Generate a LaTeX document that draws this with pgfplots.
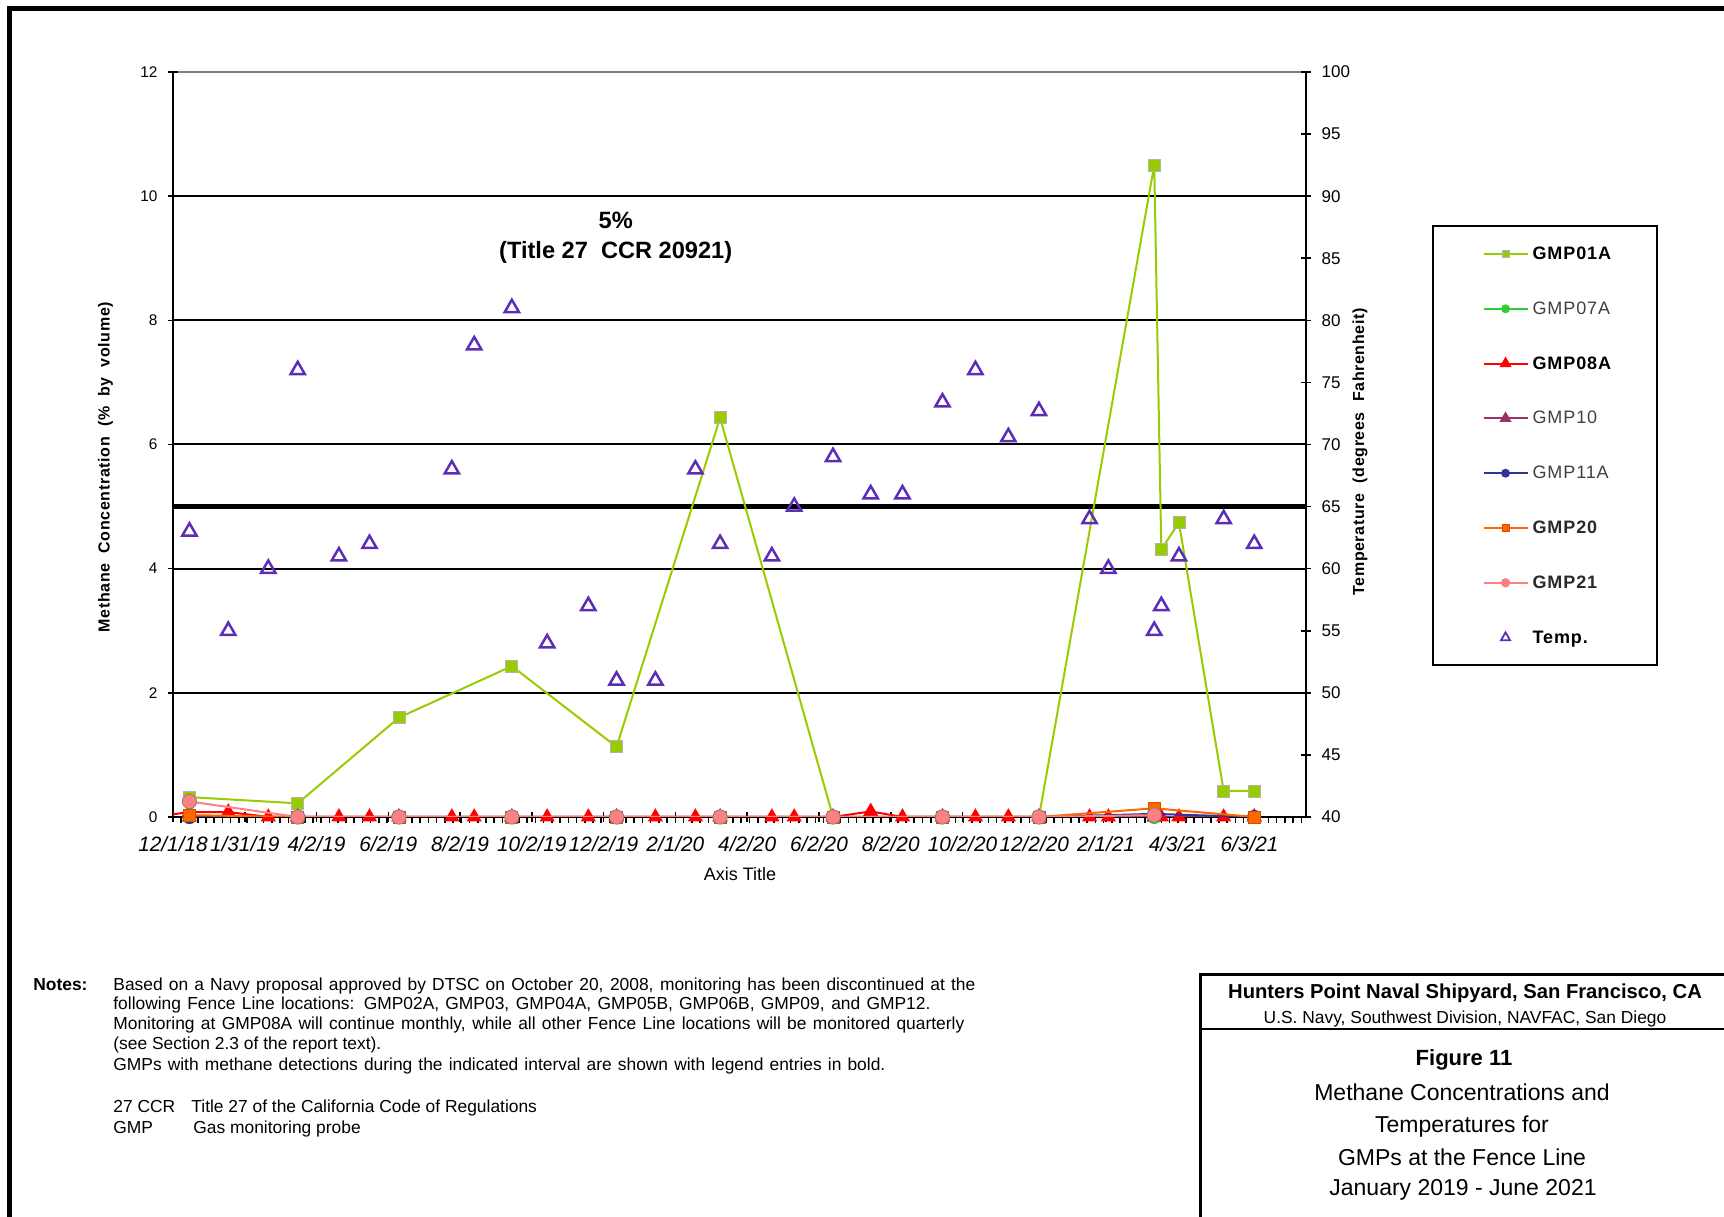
\documentclass[border=0pt]{standalone}
\usepackage{fontspec}
\setmainfont{Liberation Sans}
\newfontfamily\spacedfont[LetterSpace=5]{Liberation Sans}
\newfontfamily\labfont[LetterSpace=4]{Liberation Sans}
\usepackage{pgfplots}
\pgfplotsset{compat=1.18}
\definecolor{c01}{HTML}{99CC00}
\definecolor{c07}{HTML}{33CC33}
\definecolor{c08}{HTML}{FF0000}
\definecolor{c10}{HTML}{993366}
\definecolor{c11}{HTML}{333399}
\definecolor{c20}{HTML}{FF6600}
\definecolor{c21}{HTML}{FF8080}
\definecolor{tempc}{HTML}{5E2DB8}
\definecolor{txtgray}{HTML}{404040}
\definecolor{txtdark}{HTML}{2A2A2A}
\begin{document}
\begin{tikzpicture}[x=0.5pt,y=0.5pt]
\path[use as bounding box] (0,0) rectangle (1724,1216);
% page border
\draw[line width=2.5pt] (9.8,-10) -- (9.8,1207.5) -- (1740,1207.5);
% right info box
\draw[line width=1.5pt] (1200,-10) -- (1200,241) -- (1740,241);
\draw[line width=1.4pt] (1200,187) -- (1740,187);

\begin{axis}[
  at={(86.5pt,199.5pt)}, anchor=south west,
  scale only axis, width=566.5pt, height=372.5pt,
  xmin=0, xmax=963, ymin=0, ymax=12,
  clip mode=individual,
  axis x line*=bottom, axis y line*=left,
  axis line style={black, line width=1pt},
  xtick={0,61,...,915},
  xticklabels={12/1/18,1/31/19,4/2/19,6/2/19,8/2/19,10/2/19,12/2/19,2/1/20,4/2/20,6/2/20,8/2/20,10/2/20,12/2/20,2/1/21,4/3/21,6/3/21},
  minor xtick={7,14,...,959},
  ytick={0,2,...,10},
  extra y ticks={12},
  extra y tick style={ymajorgrids=true, major grid style={color=gray, line width=1pt}},
  ymajorgrids=true,
  major grid style={black, line width=1pt},
  tick align=center,
  major tick length=5.2pt,
  minor tick length=3pt,
  major tick style={black, line width=0.8pt},
  minor tick style={black, line width=0.8pt},
  minor x tick style={yshift=-1.5pt},
  /pgf/number format/assume math mode=true,
  yticklabel style={font=\fontsize{7.7}{9}\selectfont, anchor=east, inner sep=0pt, xshift=-5pt},
  xticklabel style={font=\itshape\fontsize{10.4}{12}\selectfont, anchor=north, inner sep=0pt, yshift=-6.8pt},
  legend style={
    at={(1.1108,0.7941)}, anchor=north west,
    draw=black, line width=1pt, fill=white,
    inner xsep=2pt, inner ysep=7.55pt,
    row sep=14.9pt,
    font=\spacedfont\fontsize{9}{10.8}\selectfont,
    nodes={text width=58pt, text height=7pt, text depth=1.5pt, inner sep=2pt, align=left},
  },
  legend cell align=left,
  legend image code/.code={
    \path[draw=none, fill=none] (-23.5pt,-2pt) rectangle (0pt,2pt);
    \draw[mark repeat=2,mark phase=2] plot coordinates {(0pt,0pt) (11pt,0pt) (22pt,0pt)};
  },
]
% 5% regulatory line
\addplot[black, line width=2.5pt, no marks, forget plot] coordinates {(0,5) (963,5)};

% GMP01A
\addplot[c01, line width=1pt, mark=square*, mark size=3pt,
  mark options={fill=c01, draw=gray!60, line width=0.4pt},
  legend image post style={mark size=1.8pt}] coordinates {
  (14,0.32) (106,0.22) (192,1.6) (288,2.43) (377,1.13) (465,6.43) (561,0) (654,0) (736,0)
  (834,10.5) (840,4.31) (855,4.74) (893,0.42) (919,0.42)};
\addlegendentry{\textbf{GMP01A}}

% GMP07A
\addplot[c07, line width=1pt, mark=*, mark size=3pt, mark options={fill=c07, draw=c07},
  legend image post style={mark size=1.7pt}] coordinates {
  (14,0) (106,0) (192,0) (288,0) (377,0) (465,0) (561,0) (654,0) (736,0) (834,0) (919,0)};
\addlegendentry{\textcolor{txtgray}{GMP07A}}

% GMP08A
\addplot[c08, line width=1pt, no marks, forget plot] coordinates {(-16,0) (14,0.08)};
\addplot[c08, line width=1pt, mark=triangle*, mark size=3.4pt, mark options={fill=c08, draw=c08},
  legend image post style={mark size=2.5pt}] coordinates {
  (14,0.08) (47,0.08) (81,0) (106,0) (141,0) (167,0) (192,0) (237,0) (256,0) (288,0)
  (318,0) (353,0) (377,0) (410,0) (444,0) (465,0) (509,0) (528,0) (561,0) (593,0.09)
  (620,0) (654,0) (682,0) (710,0) (736,0) (779,0) (795,0) (834,0) (840,0) (855,0)
  (893,0) (919,0)};
\addlegendentry{\textbf{GMP08A}}

% GMP10
\addplot[c10, line width=1pt, mark=triangle*, mark size=3.4pt, mark options={fill=c10, draw=c10},
  legend image post style={mark size=2.5pt}] coordinates {
  (14,0) (106,0) (192,0) (288,0) (377,0) (465,0) (561,0) (654,0) (736,0) (834,0) (919,0)};
\addlegendentry{\textcolor{txtgray}{GMP10}}

% GMP11A
\addplot[c11, line width=1pt, mark=*, mark size=3pt, mark options={fill=c11, draw=c11},
  legend image post style={mark size=1.7pt}] coordinates {
  (14,0) (106,0) (192,0) (288,0) (377,0) (465,0) (561,0) (654,0) (736,0) (834,0.05) (919,0)};
\addlegendentry{\textcolor{txtgray}{GMP11A}}

% GMP20
\addplot[c20, line width=1pt, mark=square*, mark size=3pt,
  mark options={fill=c20, draw=c20!80!black, line width=0.4pt},
  legend image post style={mark size=1.8pt}] coordinates {
  (14,0.03) (106,0) (192,0) (288,0) (377,0) (465,0) (561,0) (654,0) (736,0) (834,0.14) (919,0)};
\addlegendentry{\textcolor{txtdark}{\textbf{GMP20}}}

% GMP21
\addplot[c21, line width=1pt, mark=*, mark size=3.6pt,
  mark options={fill=c21, draw=gray, line width=0.4pt},
  legend image post style={mark size=1.8pt, mark options={fill=c21, draw=c21}}] coordinates {
  (14,0.25) (106,0) (192,0) (288,0) (377,0) (465,0) (561,0) (654,0) (736,0) (834,0.03)};
\addlegendentry{\textcolor{txtdark}{\textbf{GMP21}}}

\addlegendimage{only marks, mark=triangle, mark size=2.6pt, mark options={draw=tempc, line width=0.9pt},
  legend image code/.code={
    \path[draw=none, fill=none] (-23.5pt,-2pt) rectangle (0pt,2pt);
    \draw[mark repeat=2,mark phase=2] plot coordinates {(0pt,0pt) (11pt,0pt) (22pt,0pt)};
  }}
\addlegendentry{\textbf{Temp.}}
\end{axis}

\begin{axis}[
  at={(86.5pt,199.5pt)}, anchor=south west,
  scale only axis, width=566.5pt, height=372.5pt,
  xmin=0, xmax=963, ymin=40, ymax=100,
  axis y line*=right, axis x line=none,
  axis line style={black, line width=1pt},
  ytick={40,45,...,100},
  tick align=center,
  major tick length=5.2pt,
  major tick style={black, line width=0.8pt},
  /pgf/number format/assume math mode=true,
  yticklabel style={font=\fontsize{8.5}{10}\selectfont, anchor=west, inner sep=0pt, xshift=5pt},
]
\addplot[only marks, mark=triangle, mark size=4.1pt, mark options={draw=tempc, line width=1.25pt}] coordinates {
  (14,63) (47,55) (81,60) (106,76) (141,61) (167,62) (237,68) (256,78) (288,81) (318,54)
  (353,57) (377,51) (410,51) (444,68) (465,62) (509,61) (528,65) (561,69) (593,66) (620,66)
  (654,73.4) (682,76) (710,70.6) (736,72.7) (779,64) (795,60) (834,55) (840,57) (855,61)
  (893,64) (919,62)};
\end{axis}

% annotations
\node[anchor=base, font=\bfseries\fontsize{11.8}{13}\selectfont] at (615.7,987.7) {5\%};
\node[anchor=base, font=\bfseries\fontsize{11.8}{13}\selectfont] at (615.7,957.7) {(Title 27\ \ CCR 20921)};
% axis titles
\node[rotate=90, font=\labfont\bfseries\fontsize{8}{9.6}\selectfont] at (105.5,749) {Methane\ \ Concentration\ \ (\%\ \ by\ \ volume)};
\node[rotate=90, font=\labfont\bfseries\fontsize{8}{9.6}\selectfont] at (1360,764) {Temperature\ \ (degrees\ \ Fahrenheit)};
\node[font=\fontsize{9}{10.8}\selectfont] at (740,342) {Axis Title};

% notes
\begin{scope}[every node/.style={anchor=base west, inner sep=0pt, font=\fontsize{8.7}{10}\selectfont}]
\node[font=\bfseries\fontsize{8.7}{10}\selectfont] at (33,226) {Notes:};
\node at (113,226) {\makebox[431pt][s]{Based on a Navy proposal approved by DTSC on October 20, 2008, monitoring has been discontinued at the}};
\node at (113,206) {\makebox[408.5pt][s]{following Fence Line locations: GMP02A, GMP03, GMP04A, GMP05B, GMP06B, GMP09, and GMP12.}};
\node at (113,186) {\makebox[425.5pt][s]{Monitoring at GMP08A will continue monthly, while all other Fence Line locations will be monitored quarterly}};
\node at (113,167) {(see Section 2.3 of the report text).};
\node at (113,146) {\makebox[386pt][s]{GMPs with methane detections during the indicated interval are shown with legend entries in bold.}};
\node at (113,103.3) {27 CCR};
\node at (191,103.3) {Title 27 of the California Code of Regulations};
\node at (113,83) {GMP};
\node at (193,83) {Gas monitoring probe};
\end{scope}

% title block
\node[anchor=base, font=\bfseries\fontsize{10.1}{11}\selectfont] at (1465,217.7) {Hunters Point Naval Shipyard, San Francisco, CA};
\node[anchor=base, font=\fontsize{8.7}{10.4}\selectfont] at (1465,192.5) {U.S. Navy, Southwest Division, NAVFAC, San Diego};
\node[anchor=base, font=\bfseries\fontsize{11}{13}\selectfont] at (1464,151) {Figure 11};
\node[anchor=base, font=\fontsize{11.5}{13}\selectfont] at (1462,116) {Methane Concentrations and};
\node[anchor=base, font=\fontsize{11.5}{13}\selectfont] at (1462,83.7) {Temperatures for};
\node[anchor=base, font=\fontsize{11.5}{13}\selectfont] at (1462,50.7) {GMPs at the Fence Line};
\node[anchor=base, font=\fontsize{11.5}{13}\selectfont] at (1463,20.7) {January 2019 - June 2021};
\end{tikzpicture}
\end{document}
